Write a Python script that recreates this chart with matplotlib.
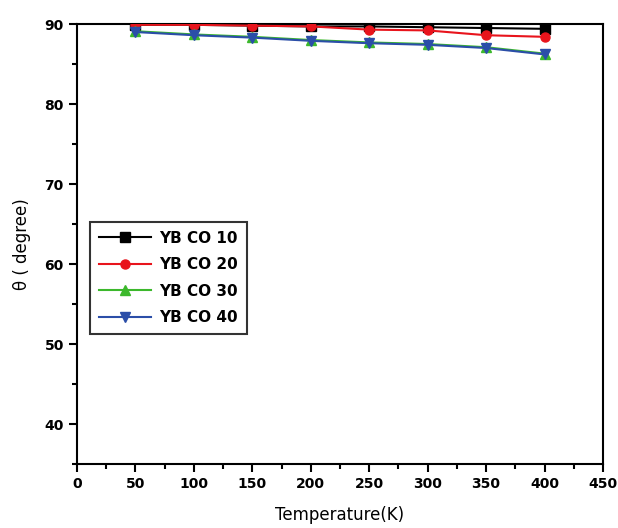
import matplotlib
matplotlib.use("Agg")
import matplotlib.pyplot as plt
from matplotlib.ticker import MultipleLocator

temperature = [50, 100, 150, 200, 250, 300, 350, 400]
ybco10 = [89.9, 89.9, 89.8, 89.7, 89.7, 89.6, 89.5, 89.4]
ybco20 = [89.9, 89.9, 89.8, 89.7, 89.3, 89.2, 88.6, 88.4]
ybco30 = [89.1, 88.7, 88.4, 88.0, 87.7, 87.5, 87.1, 86.3]
ybco40 = [89.0, 88.6, 88.3, 87.9, 87.6, 87.4, 87.0, 86.2]

series = [
    ("YB CO 10", ybco10, "black", "s"),
    ("YB CO 20", ybco20, "#e8141c", "o"),
    ("YB CO 30", ybco30, "#3cb82c", "^"),
    ("YB CO 40", ybco40, "#2b4ea8", "v"),
]

fig = plt.figure(figsize=(6.18, 5.28), dpi=100)
ax = fig.add_axes([0.1246, 0.1212, 0.8511, 0.8333])

for name, vals, col, mk in series:
    ax.plot(temperature, vals, color=col, marker=mk, markersize=6.5,
            linewidth=1.5, label=name, zorder=3)

ax.set_xlim(0, 450)
ax.set_ylim(35, 90)
ax.xaxis.set_major_locator(MultipleLocator(50))
ax.xaxis.set_minor_locator(MultipleLocator(25))
ax.yaxis.set_minor_locator(MultipleLocator(5))
ax.set_yticks([40, 50, 60, 70, 80, 90])
ax.tick_params(axis="both", which="major", direction="out", length=6, width=1.5,
               labelsize=10)
ax.tick_params(axis="both", which="minor", direction="out", length=3.5, width=1.5)
for lbl in ax.get_xticklabels() + ax.get_yticklabels():
    lbl.set_fontweight("bold")
for sp in ax.spines.values():
    sp.set_linewidth(1.5)

ax.set_xlabel("Temperature(K)", fontsize=12, labelpad=11)
ax.set_ylabel("θ ( degree)", fontsize=12, labelpad=10)

leg = ax.legend(loc="lower left", bbox_to_anchor=(0.025, 0.295), fontsize=11,
                frameon=True, fancybox=False, edgecolor="black",
                handlelength=3.4, handletextpad=0.5, borderpad=0.6,
                labelspacing=0.75, borderaxespad=0)
leg.get_frame().set_linewidth(1.5)
for t in leg.get_texts():
    t.set_fontweight("bold")

fig.savefig("out.png", dpi=100)
